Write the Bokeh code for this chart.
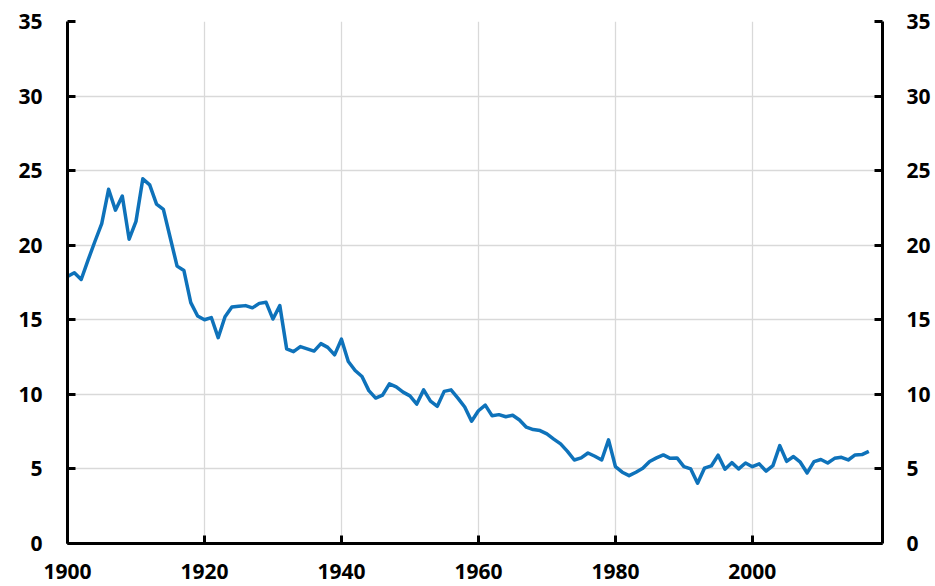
from bokeh.plotting import figure
from bokeh.models import LinearAxis, Range1d, FixedTicker
from bokeh.embed import file_html
from bokeh.resources import INLINE

years = list(range(1900, 2018))
values = [
    17.9, 18.15, 17.7, 19.0, 20.25, 21.45, 23.75, 22.35, 23.3, 20.4,   # 1900-1909
    21.6, 24.45, 24.05, 22.75, 22.4, 20.5, 18.6, 18.3, 16.15, 15.25,   # 1910-1919
    15.0, 15.15, 13.8, 15.2, 15.85, 15.9, 15.95, 15.8, 16.1, 16.17,    # 1920-1929
    15.05, 15.95, 13.05, 12.86, 13.2, 13.05, 12.9, 13.4, 13.15, 12.65, # 1930-1939
    13.7, 12.2, 11.6, 11.2, 10.25, 9.75, 9.95, 10.7, 10.5, 10.15,      # 1940-1949
    9.9, 9.35, 10.3, 9.55, 9.2, 10.2, 10.3, 9.75, 9.15, 8.2,           # 1950-1959
    8.9, 9.28, 8.56, 8.64, 8.5, 8.6, 8.28, 7.8, 7.64, 7.57,            # 1960-1969
    7.35, 7.0, 6.68, 6.18, 5.6, 5.74, 6.07, 5.85, 5.6, 6.95,           # 1970-1979
    5.16, 4.78, 4.55, 4.78, 5.04, 5.5, 5.74, 5.94, 5.71, 5.74,         # 1980-1989
    5.16, 5.0, 4.04, 5.05, 5.2, 5.92, 4.98, 5.42, 5.0, 5.4,            # 1990-1999
    5.15, 5.34, 4.85, 5.22, 6.56, 5.51, 5.83, 5.45, 4.73, 5.49,        # 2000-2009
    5.63, 5.4, 5.71, 5.78, 5.6, 5.94, 5.96, 6.18,                      # 2010-2017
]
x_ticks = [1900, 1920, 1940, 1960, 1980, 2000]
y_ticks = [0, 5, 10, 15, 20, 25, 30, 35]

FONT = "Open Sans"

p = figure(width=935, height=586, output_backend="svg", toolbar_location=None,
           x_range=Range1d(1900, 2019), y_range=Range1d(0, 35),
           min_border_left=67, min_border_right=53, min_border_top=21,
           min_border_bottom=43)
p.outline_line_color = None
p.background_fill_color = "white"

p.line(years, values, line_color="#0E72BA", line_width=3.5, line_join="round")


def style_axis(ax, standoff):
    ax.axis_line_width = 3
    ax.axis_line_color = "black"
    ax.major_tick_in = 8
    ax.major_tick_out = 0
    ax.major_tick_line_width = 3
    ax.major_tick_line_color = "black"
    ax.minor_tick_line_color = None
    ax.major_label_text_font = FONT
    ax.major_label_text_font_style = "bold"
    ax.major_label_text_font_size = "21px"
    ax.major_label_text_color = "black"
    ax.major_label_standoff = standoff


style_axis(p.xaxis[0], 20)
style_axis(p.yaxis[0], 25)
p.xaxis.ticker = FixedTicker(ticks=x_ticks)
p.yaxis.ticker = FixedTicker(ticks=y_ticks)

right = LinearAxis(ticker=FixedTicker(ticks=y_ticks))
style_axis(right, 24)
p.add_layout(right, "right")

p.xgrid.ticker = FixedTicker(ticks=x_ticks)
p.ygrid.ticker = FixedTicker(ticks=y_ticks)
p.xgrid.grid_line_color = "#d9d9d9"
p.ygrid.grid_line_color = "#d9d9d9"
p.xgrid.grid_line_width = 1.3
p.ygrid.grid_line_width = 1.3

open("out.html", "w").write(file_html(p, INLINE))
